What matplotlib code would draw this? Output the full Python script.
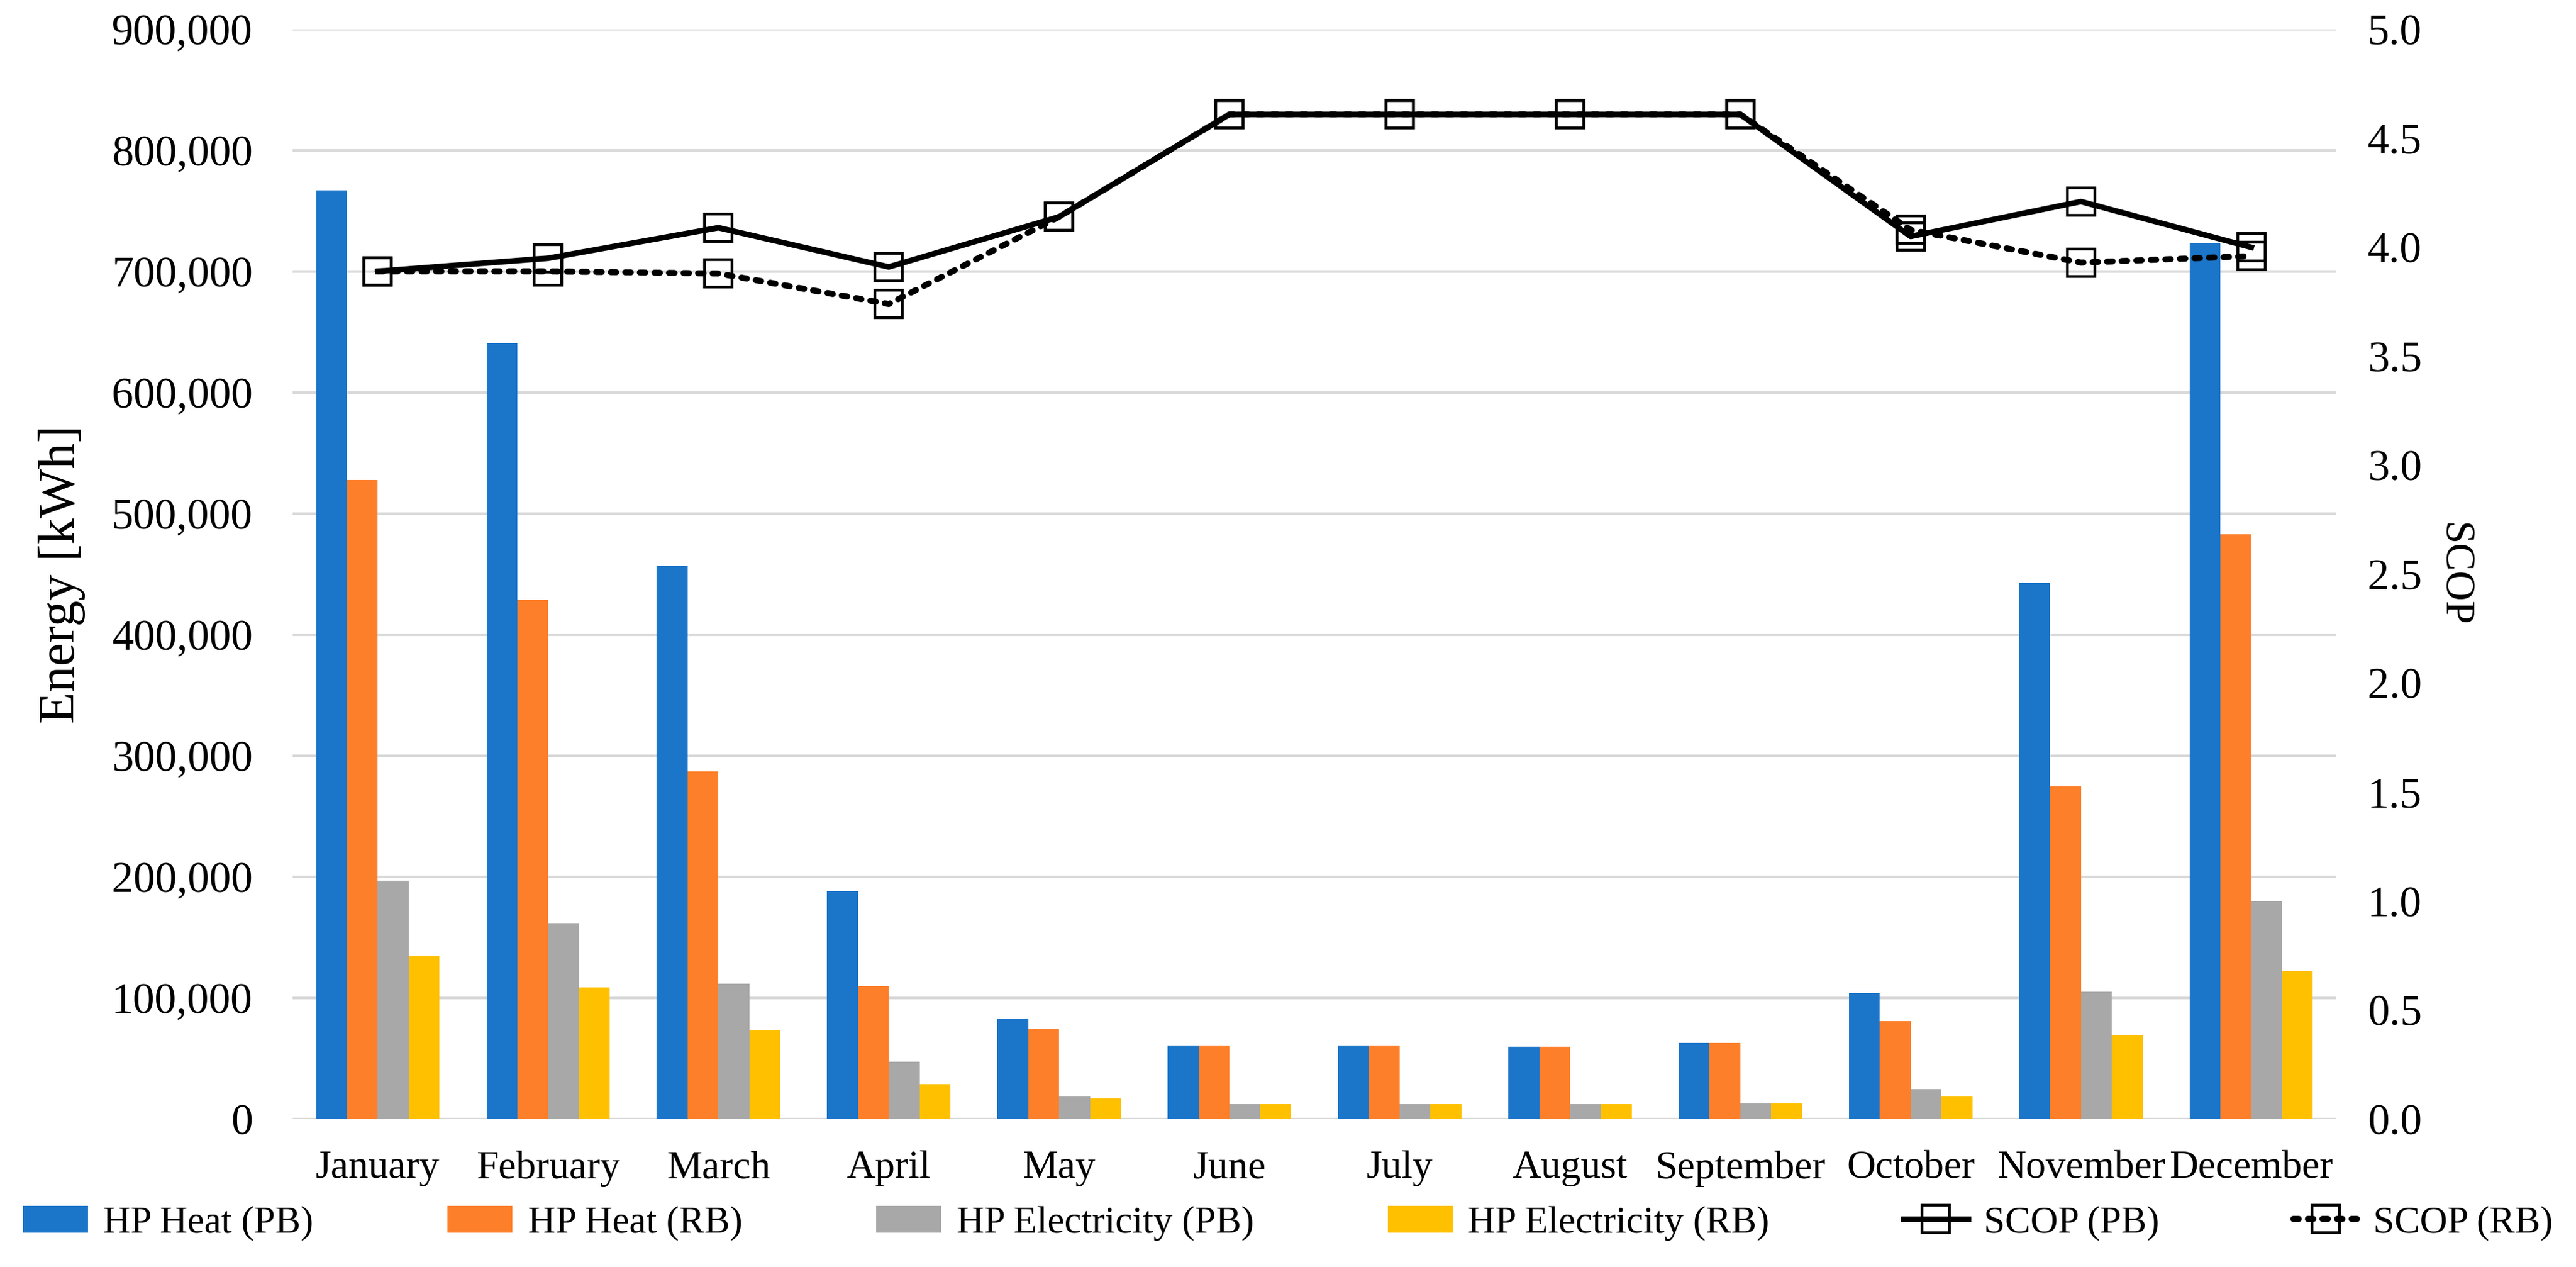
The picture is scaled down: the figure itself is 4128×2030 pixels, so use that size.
import matplotlib
matplotlib.use('Agg')
import matplotlib.pyplot as plt
from matplotlib.ticker import FuncFormatter, MultipleLocator
import numpy as np

months = ['January', 'February', 'March', 'April', 'May', 'June', 'July',
          'August', 'September', 'October', 'November', 'December']

# energy [kWh]
heat_pb = [767000, 641000, 457000, 188000, 83000, 61000, 61000, 60000, 63000, 104000, 443000, 723000]
heat_rb = [528000, 429000, 287000, 110000, 75000, 61000, 61000, 60000, 63000, 81000, 275000, 483000]
elec_pb = [197000, 162000, 112000, 47500, 19000, 12500, 12500, 12500, 13000, 25000, 105000, 180000]
elec_rb = [135000, 109000, 73000, 29000, 17000, 12500, 12500, 12500, 13000, 19000, 69000, 122000]

# SCOP
scop_pb = [3.89, 3.95, 4.09, 3.91, 4.14, 4.61, 4.61, 4.61, 4.61, 4.05, 4.21, 4.00]
scop_rb = [3.89, 3.89, 3.88, 3.74, 4.14, 4.61, 4.61, 4.61, 4.61, 4.08, 3.93, 3.96]

bar_series = [heat_pb, heat_rb, elec_pb, elec_rb]
bar_labels = ['HP Heat (PB)', 'HP Heat (RB)', 'HP Electricity (PB)', 'HP Electricity (RB)']
bar_colors = ['#1B75C9', '#FE7F2A', '#A8A8A8', '#FFC000']

plt.rcParams['font.family'] = ['Liberation Serif', 'DejaVu Serif']

fig = plt.figure(figsize=(41.28, 20.30), dpi=100)
ax = fig.add_axes([0.1136, 0.1167, 0.7934, 0.8601])

x = np.arange(len(months))
w = 0.181
for i, (vals, lab, col) in enumerate(zip(bar_series, bar_labels, bar_colors)):
	ax.bar(x + (i - 1.5) * w, vals, w, color=col, label=lab, zorder=2)

ax.set_xlim(-0.5, 11.5)
ax.set_ylim(0, 900000)
ax.yaxis.set_major_locator(MultipleLocator(100000))
ax.yaxis.set_major_formatter(FuncFormatter(lambda v, p: '{:,.0f}'.format(v)))
ax.grid(axis='y', color='#D9D9D9', linewidth=3)
ax.set_axisbelow(True)
for s in ax.spines.values():
	s.set_visible(False)
ax.set_xticks(x)
ax.set_xticklabels(months)
ax.tick_params(axis='x', length=0, labelsize=46, pad=36)
ax.tick_params(axis='y', length=0, labelsize=50, pad=46)
ax.set_ylabel('Energy [kWh]', fontsize=60, labelpad=30)

ax2 = ax.twinx()
ax2.plot(x, scop_pb, color='black', lw=6.5, marker='s', markersize=31,
	mfc='none', mec='black', mew=3.2, label='SCOP (PB)')
ax2.plot(x, scop_rb, color='black', lw=7, linestyle=(0, (0.9, 1.5)),
	dash_capstyle='round', marker='s', markersize=31, mfc='none', mec='black',
	mew=3.2, label='SCOP (RB)')
ax2.set_ylim(0, 5)
ax2.yaxis.set_major_locator(MultipleLocator(0.5))
ax2.yaxis.set_major_formatter(FuncFormatter(lambda v, p: '{:.1f}'.format(v)))
for s in ax2.spines.values():
	s.set_visible(False)
ax2.tick_params(axis='y', length=0, labelsize=50, pad=36)
ax2.set_ylabel('SCOP', fontsize=48, rotation=270, labelpad=58)

h1, l1 = ax.get_legend_handles_labels()
h2, l2 = ax2.get_legend_handles_labels()
fig.legend(h1 + h2, l1 + l2, loc='center', bbox_to_anchor=(0.003, 0.012, 0.994, 0.045),
	ncol=6, mode='expand', frameon=False, fontsize=44, handlelength=1.7,
	handletextpad=0.4, borderaxespad=0)

fig.savefig('out.png', dpi=100)
